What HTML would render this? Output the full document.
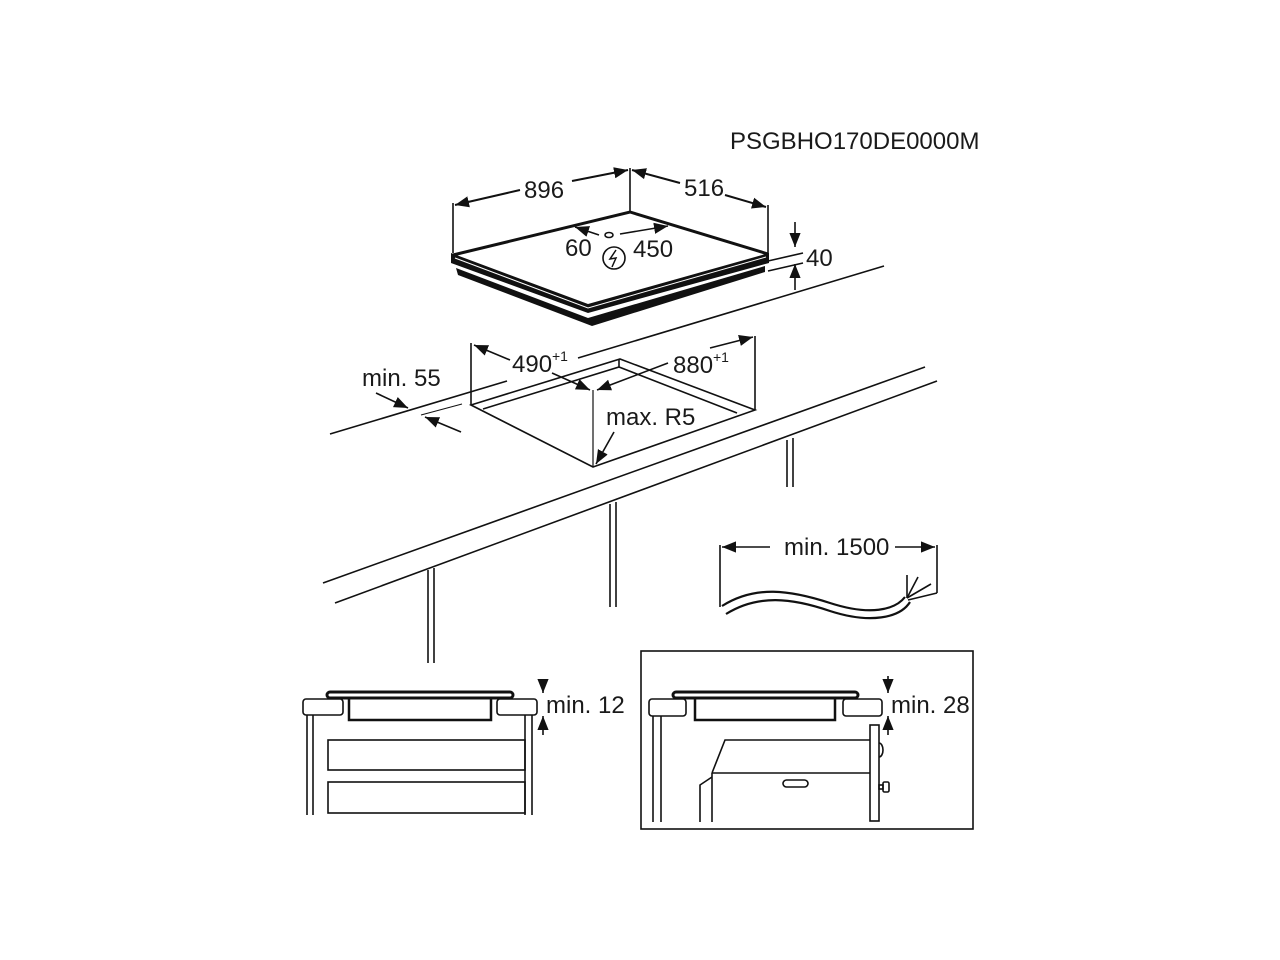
<!DOCTYPE html>
<html><head><meta charset="utf-8"><style>
html,body{margin:0;padding:0;background:#fff;}
svg{display:block;}
text{font-family:"Liberation Sans",Arial,sans-serif;font-size:24px;fill:#1a1a1a;}
</style></head><body>
<svg width="1280" height="960" viewBox="0 0 1280 960" xmlns="http://www.w3.org/2000/svg">
<defs>
<marker id="a" viewBox="0 0 10 10" refX="10" refY="5" markerWidth="14" markerHeight="14" markerUnits="userSpaceOnUse" orient="auto">
<path d="M0,1 L10,5 L0,9 z" fill="#111"/></marker>
</defs>
<g stroke="#111" fill="none" stroke-width="1.6">
<text x="730" y="149" stroke="none">PSGBHO170DE0000M</text>

<!-- Hob -->
<polygon points="451,253 588,304 769,253 769,263 588,313 451,263" fill="#111" stroke="none"/>
<polygon points="456,268 588,318 765,266 765,272 592,326 458,275" fill="#111" stroke="none"/>
<polyline points="453,255 630,212 768,254" stroke-width="3"/>
<polyline points="455,258 588,308 766,257" stroke="#fff" stroke-width="1"/>
<!-- dims 896/516 -->
<line x1="453" y1="253" x2="453" y2="203"/>
<line x1="630" y1="212" x2="630" y2="168"/>
<line x1="768" y1="254" x2="768" y2="205"/>
<line x1="520" y1="190" x2="455" y2="205" marker-end="url(#a)" stroke-width="2"/>
<line x1="572" y1="181" x2="628" y2="170" marker-end="url(#a)" stroke-width="2"/>
<line x1="680" y1="183" x2="632" y2="170" marker-end="url(#a)" stroke-width="2"/>
<line x1="725" y1="195" x2="766" y2="207" marker-end="url(#a)" stroke-width="2"/>
<text x="524" y="198" stroke="none">896</text>
<text x="684" y="196" stroke="none">516</text>
<!-- 60 / 450 -->
<line x1="599" y1="235" x2="575" y2="227" marker-end="url(#a)"/>
<line x1="620" y1="234" x2="668" y2="226" marker-end="url(#a)"/>
<ellipse cx="609" cy="235" rx="4" ry="2.5"/>
<text x="565" y="256" stroke="none">60</text>
<text x="633" y="257" stroke="none">450</text>
<circle cx="614" cy="258" r="11"/>
<path d="M616,250 L610,259 L616,258 L612,267" stroke-width="1.5"/>
<!-- 40 -->
<line x1="795" y1="222" x2="795" y2="247" marker-end="url(#a)"/>
<line x1="795" y1="290" x2="795" y2="264" marker-end="url(#a)"/>
<line x1="768" y1="261" x2="803" y2="253"/>
<line x1="768" y1="271" x2="803" y2="263"/>
<text x="806" y="266" stroke="none">40</text>

<!-- Counter back line -->
<line x1="330" y1="434" x2="507" y2="381"/>
<line x1="578" y1="358" x2="884" y2="266"/>
<!-- Counter front edge -->
<line x1="323" y1="583" x2="925" y2="367"/>
<line x1="335" y1="603" x2="937" y2="381"/>
<!-- legs -->
<line x1="428" y1="570" x2="428" y2="663"/><line x1="434" y1="568" x2="434" y2="663"/>
<line x1="610" y1="504" x2="610" y2="607"/><line x1="616" y1="502" x2="616" y2="607"/>
<line x1="787" y1="440" x2="787" y2="487"/><line x1="793" y1="438" x2="793" y2="487"/>

<!-- Cutout -->
<polygon points="471,405 620,359 755,410 593,467"/>
<polyline points="483,409 619,367 737,413"/>
<line x1="619" y1="359" x2="619" y2="367"/>
<line x1="471" y1="343" x2="471" y2="405"/>
<line x1="755" y1="336" x2="755" y2="410"/>
<line x1="593" y1="467" x2="593" y2="390" stroke-width="1.2"/>
<line x1="510" y1="360" x2="474" y2="345" marker-end="url(#a)"/>
<line x1="552" y1="373" x2="590" y2="390" marker-end="url(#a)"/>
<line x1="710" y1="348" x2="753" y2="337" marker-end="url(#a)"/>
<line x1="668" y1="363" x2="597" y2="390" marker-end="url(#a)"/>
<text x="512" y="372" stroke="none">490</text><text x="552" y="361" stroke="none" style="font-size:14px">+1</text>
<text x="673" y="373" stroke="none">880</text><text x="713" y="362" stroke="none" style="font-size:14px">+1</text>
<text x="606" y="425" stroke="none">max. R5</text>
<line x1="614" y1="432" x2="596" y2="464" marker-end="url(#a)"/>
<!-- min 55 -->
<text x="362" y="386" stroke="none">min. 55</text>
<line x1="376" y1="393" x2="408" y2="408" marker-end="url(#a)"/>
<line x1="461" y1="432" x2="425" y2="417" marker-end="url(#a)"/>
<line x1="421" y1="415" x2="462" y2="404" stroke-width="1"/>

<!-- Cable -->
<line x1="720" y1="545" x2="720" y2="607"/>
<line x1="937" y1="545" x2="937" y2="593"/>
<line x1="770" y1="547" x2="722" y2="547" marker-end="url(#a)"/>
<line x1="895" y1="547" x2="935" y2="547" marker-end="url(#a)"/>
<text x="784" y="555" stroke="none">min. 1500</text>
<path d="M722,606 C755,585 790,590 830,603 C870,616 895,610 905,597" stroke-width="2.2"/>
<path d="M726,614 C758,594 792,598 830,611 C870,624 900,618 910,602" stroke-width="2.2"/>
<line x1="907" y1="598" x2="907" y2="575"/>
<line x1="907" y1="598" x2="918" y2="577"/>
<line x1="907" y1="598" x2="931" y2="584"/>
<line x1="908" y1="600" x2="937" y2="593"/>

<!-- Bottom-left section -->
<rect x="327" y="692" width="186" height="6" rx="3" stroke-width="3"/>
<rect x="303" y="699" width="40" height="16" rx="3"/>
<rect x="497" y="699" width="40" height="16" rx="3"/>
<polyline points="349,699 349,720 491,720 491,699" stroke-width="2.5"/>
<line x1="307" y1="715" x2="307" y2="815"/><line x1="313" y1="715" x2="313" y2="815"/>
<line x1="525" y1="715" x2="525" y2="815"/><line x1="532" y1="715" x2="532" y2="815"/>
<rect x="328" y="740" width="197" height="30"/>
<rect x="328" y="782" width="197" height="31"/>
<line x1="543" y1="679" x2="543" y2="693" marker-end="url(#a)"/>
<line x1="543" y1="735" x2="543" y2="716" marker-end="url(#a)"/>
<text x="546" y="713" stroke="none">min. 12</text>

<!-- Bottom-right section -->
<rect x="641" y="651" width="332" height="178"/>
<rect x="673" y="692" width="185" height="6" rx="3" stroke-width="3"/>
<rect x="649" y="699" width="37" height="17" rx="3"/>
<rect x="843" y="699" width="39" height="17" rx="3"/>
<polyline points="695,699 695,720 835,720 835,699" stroke-width="2.5"/>
<line x1="653" y1="716" x2="653" y2="822"/><line x1="661" y1="716" x2="661" y2="822"/>
<polyline points="712,773 725,740 870,740"/>
<line x1="712" y1="773" x2="870" y2="773"/>
<polyline points="712,777 700,785 700,822"/>
<line x1="712" y1="773" x2="712" y2="822"/>
<rect x="870" y="725" width="9" height="96"/>
<path d="M879,743 a4,7 0 0 1 0,14"/>
<rect x="879" y="785" width="4" height="4"/>
<rect x="883" y="782" width="6" height="10" rx="1.5"/>
<rect x="783" y="780" width="25" height="7" rx="3.5"/>
<line x1="888" y1="676" x2="888" y2="693" marker-end="url(#a)"/>
<line x1="888" y1="735" x2="888" y2="716" marker-end="url(#a)"/>
<text x="891" y="713" stroke="none">min. 28</text>
</g>
</svg>
</body></html>
